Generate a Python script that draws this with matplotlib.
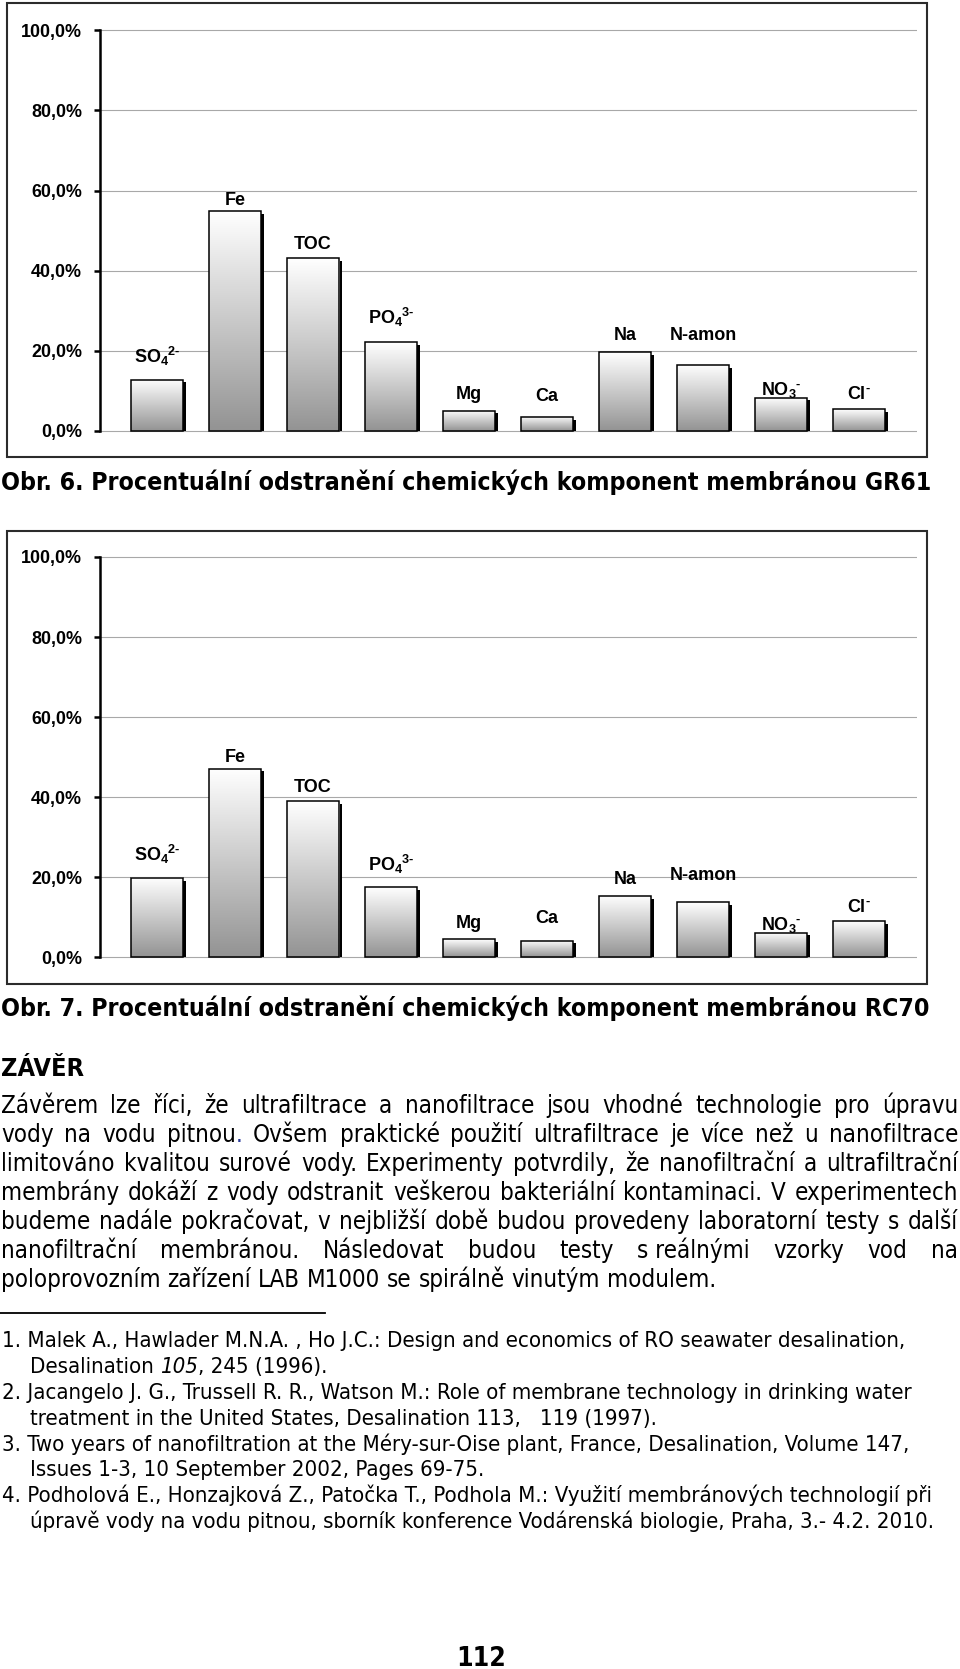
import os
import glob
import numpy as np
import matplotlib
matplotlib.use("Agg")
import matplotlib.pyplot as plt
from matplotlib import font_manager as fm
from matplotlib.transforms import ScaledTranslation
from matplotlib.colors import LinearSegmentedColormap
from matplotlib.patches import Rectangle

# ---------------- data ----------------
categories = ["SO4", "Fe", "TOC", "PO4", "Mg", "Ca", "Na", "N-amon", "NO3", "Cl"]
category_labels = ["SO$_4$$^{2\u2010}$", "Fe", "TOC", "PO$_4$$^{3\u2010}$", "Mg", "Ca",
                   "Na", "N-amon", "NO$_3$$^{\u2010}$", "Cl$^{\u2010}$"]
removal_gr61 = [12.8, 54.8, 43.1, 22.2, 5.1, 3.5, 19.6, 16.5, 8.3, 5.4]
removal_rc70 = [19.8, 47.1, 39.0, 17.5, 4.4, 4.1, 15.3, 13.7, 6.1, 9.0]
y_ticks = [0, 20, 40, 60, 80, 100]
y_tick_labels = ["0,0%", "20,0%", "40,0%", "60,0%", "80,0%", "100,0%"]

caption_gr61 = "Obr. 6. Procentuální odstranění chemických komponent membránou GR61"
caption_rc70 = "Obr. 7. Procentuální odstranění chemických komponent membránou RC70"
heading = "ZÁVĚR"
body_lines = [
    "Závěrem lze říci, že ultrafiltrace a nanofiltrace jsou vhodné technologie pro úpravu",
    "vody na vodu pitnou. Ovšem praktické použití ultrafiltrace je více než u nanofiltrace",
    "limitováno kvalitou surové vody. Experimenty potvrdily, že nanofiltrační a ultrafiltrační",
    "membrány dokáží z vody odstranit veškerou bakteriální kontaminaci. V experimentech",
    "budeme nadále pokračovat, v nejbližší době budou provedeny laboratorní testy s další",
    "nanofiltrační membránou. Následovat budou testy s\u00a0reálnými vzorky vod na",
    "poloprovozním zařízení LAB M1000 se spirálně vinutým modulem.",
]
references = [
    [("1. Malek A., Hawlader M.N.A. , Ho J.C.: Design and economics of RO seawater desalination,", "r")],
    [("Desalination ", "r"), ("105", "i"), (", 245 (1996).", "r")],
    [("2. Jacangelo J. G., Trussell R. R., Watson M.: Role of membrane technology in drinking water", "r")],
    [("treatment in the United States, Desalination 113,   119 (1997).", "r")],
    [("3. Two years of nanofiltration at the Méry-sur-Oise plant, France, Desalination, Volume 147,", "r")],
    [("Issues 1-3, 10 September 2002, Pages 69-75.", "r")],
    [("4. Podholová E., Honzajková Z., Patočka T., Podhola M.: Využití membránových technologií při", "r")],
    [("úpravě vody na vodu pitnou, sborník konference Vodárenská biologie, Praha, 3.- 4.2. 2010.", "r")],
]
page_number = "112"

# label baselines (layout, in % units of each chart)
label_base_gr61 = [16.9, 56.5, 45.5, 26.6, 8.1, 7.6, 22.8, 22.6, 9.1, 7.9]
label_base_rc70 = [23.9, 48.7, 41.2, 21.6, 7.2, 8.5, 18.2, 19.3, 6.8, 11.2]

# ---------------- setup ----------------
W, H, DPI = 960, 1669, 100
plt.rcParams["mathtext.fontset"] = "custom"
plt.rcParams["mathtext.rm"] = "Liberation Sans:bold"
plt.rcParams["mathtext.it"] = "Liberation Sans:bold"
plt.rcParams["mathtext.bf"] = "Liberation Sans:bold"
plt.rcParams["mathtext.sf"] = "Liberation Sans:bold"
plt.rcParams["mathtext.default"] = "rm"


def find_font(basename):
    for f in fm.fontManager.ttflist:
        if os.path.basename(f.fname) == basename:
            return f.fname
    hits = glob.glob("/usr/share/fonts/**/" + basename, recursive=True)
    return hits[0] if hits else None


reg = find_font("DejaVuSansCondensed.ttf")
bold = find_font("DejaVuSansCondensed-Bold.ttf")
ital = find_font("DejaVuSansCondensed-Oblique.ttf")
if reg and bold:
    FP_R = fm.FontProperties(fname=reg)
    FP_B = fm.FontProperties(fname=bold)
    FP_I = fm.FontProperties(fname=ital) if ital else fm.FontProperties(family="DejaVu Sans", style="oblique")
else:
    FP_R = fm.FontProperties(family="DejaVu Sans")
    FP_B = fm.FontProperties(family="DejaVu Sans", weight="bold")
    FP_I = fm.FontProperties(family="DejaVu Sans", style="oblique")

fig = plt.figure(figsize=(W / DPI, H / DPI), dpi=DPI)
fig.patch.set_facecolor("white")
ov = fig.add_axes([0, 0, 1, 1], zorder=0)
ov.set_xlim(0, W)
ov.set_ylim(H, 0)
ov.axis("off")
renderer = fig.canvas.get_renderer()


def sized(fp, size):
    p = fp.copy()
    p.set_size(size)
    return p


def measure(s, fp):
    t = ov.text(0, 0, s, fontproperties=fp)
    w = t.get_window_extent(renderer=renderer).width
    t.remove()
    return w


def seg_width(s, fp):
    return measure("|" + s + "|", fp) - measure("||", fp)


def fit(s, fp, target):
    return 10.0 * target / measure(s, sized(fp, 10.0))


# ---------------- charts ----------------
GRAD = LinearSegmentedColormap.from_list("g", ["#ffffff", "#939393"])
BW = 52 / 78.0
XLIM = ((100 - 157) / 78.0, (917 - 157) / 78.0)


def draw_chart(y100, y0, values, label_base):
    scale = (y0 - y100) / 100.0
    pad = 1.5
    top_px = y100 - pad * scale
    bot_px = y0 + pad * scale
    ax = fig.add_axes([100 / W, 1 - bot_px / H, (917 - 100) / W, (bot_px - top_px) / H], zorder=2)
    ax.patch.set_alpha(0)
    x = np.arange(len(values))
    ax.set_yticks(y_ticks, labels=y_tick_labels, fontweight="bold",
                  family="Liberation Sans", fontsize=12.9)
    ax.set_xticks([])
    ax.yaxis.grid(True, color="#a8a8a8", lw=0.8)
    ax.set_axisbelow(True)
    for s in ("top", "right", "bottom"):
        ax.spines[s].set_visible(False)
    ax.spines["left"].set_linewidth(1.8)
    ax.spines["left"].set_bounds(0, 100)
    ax.tick_params(axis="y", length=4.3, width=1.8, pad=8.6, color="black")

    shadow_tr = ax.transData + ScaledTranslation(3 / DPI, -2.7 / DPI, fig.dpi_scale_trans)
    shadows = ax.bar(x, values, width=BW, color="black", zorder=2, transform=shadow_tr)
    clip = Rectangle((XLIM[0], 0), XLIM[1] - XLIM[0], 200, transform=ax.transData)
    for sp in shadows:
        sp.set_clip_path(clip)
    bars = ax.bar(x, values, width=BW, facecolor="none", edgecolor="black", lw=1.1, zorder=4)
    grad = np.linspace(0, 1, 256)[:, None]
    for b in bars:
        x0, yb = b.get_x(), b.get_y()
        ax.imshow(grad, extent=(x0, x0 + b.get_width(), yb, yb + b.get_height()),
                  cmap=GRAD, aspect="auto", origin="upper", zorder=3, interpolation="bilinear")
    for i, lab in enumerate(category_labels):
        ax.text(x[i], label_base[i], lab, ha="center", va="baseline", fontsize=13.0,
                fontweight="bold", family="Liberation Sans", zorder=5)
    ax.set_xlim(*XLIM)
    ax.set_ylim(-pad, 100 + pad)
    return ax


draw_chart(30.3, 431.0, removal_gr61, label_base_gr61)
draw_chart(557.0, 957.0, removal_rc70, label_base_rc70)

# chart frames
for (top, bot) in [(3.3, 457.0), (530.5, 984.0)]:
    ov.add_patch(Rectangle((7, top), 920, bot - top, fill=False, ec="#2b2b2b", lw=1.5))

# ---------------- text ----------------
cap_size = fit(caption_gr61, FP_B, 922)
fp_cap = sized(FP_B, cap_size)
ov.text(1, 490.0, caption_gr61, fontproperties=fp_cap, va="baseline", ha="left")
ov.text(1, 1015.7, caption_rc70, fontproperties=fp_cap, va="baseline", ha="left")

fp_head = sized(FP_B, fit(heading, FP_B, 82))
ov.text(1, 1075.7, heading, fontproperties=fp_head, va="baseline", ha="left")

body_size = fit(body_lines[-1], FP_R, 714)
fp_body = sized(FP_R, body_size)
space_w = seg_width(" ", fp_body)
for k, line in enumerate(body_lines):
    y = 1112.7 + 29.0 * k
    words = line.split(" ")
    widths = [seg_width(w, fp_body) for w in words]
    last = (k == len(body_lines) - 1)
    gap = space_w if last else (958 - 1 - sum(widths)) / (len(words) - 1)
    xx = 1.0
    for w, wd in zip(words, widths):
        if w == "pitnou.":
            ov.text(xx, y, "pitnou", fontproperties=fp_body, va="baseline", ha="left")
            ov.text(xx + seg_width("pitnou", fp_body), y, ".", fontproperties=fp_body,
                    va="baseline", ha="left", color="#2a3a9a")
        else:
            ov.text(xx, y, w, fontproperties=fp_body, va="baseline", ha="left")
        xx += wd + gap

ov.plot([0, 325], [1313, 1313], color="black", lw=1.3)

ref_size = fit(references[6][0][0], FP_R, 935)
fp_ref = {"r": sized(FP_R, ref_size), "i": sized(FP_I, ref_size)}
for k, segs in enumerate(references):
    y = 1346.7 + 25.95 * k
    xx = 2.0 if k % 2 == 0 else 30.0
    for txt, st in segs:
        ov.text(xx, y, txt, fontproperties=fp_ref[st], va="baseline", ha="left")
        xx += seg_width(txt, fp_ref[st])

fp_page = sized(FP_B, fit(page_number, FP_B, 50))
ov.text(481, 1666.0, page_number, fontproperties=fp_page, va="baseline", ha="center")

fig.savefig("out.png", dpi=DPI, facecolor="white")
